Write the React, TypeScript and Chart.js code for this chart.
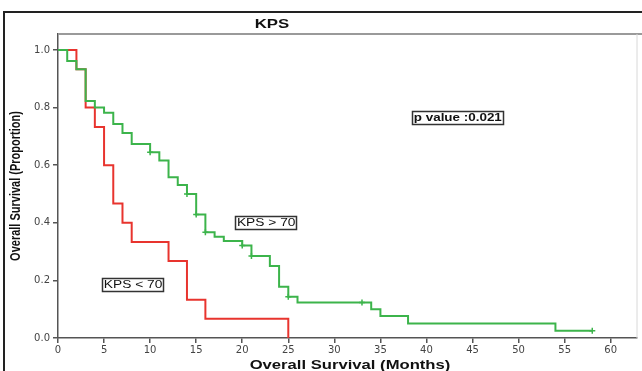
import React, { useEffect, useRef } from "react";
import { Chart, registerables } from "chart.js";

Chart.register(...registerables);

// Kaplan-Meier steps (time in months, survival proportion after event)
const lowTimes = [0, 2, 3, 4, 5, 6, 7, 8, 12, 14, 16, 25];
const lowSurv = [1, 0.933, 0.8, 0.733, 0.6, 0.467, 0.4, 0.333, 0.267, 0.133, 0.067, 0];

const highTimes = [0, 1, 2, 3, 4, 5, 6, 7, 8, 10, 11, 12, 13, 14, 15, 16, 17, 18, 20, 21, 23, 24, 25, 26, 34, 35, 38, 54, 58];
const highSurv = [1, 0.962, 0.933, 0.823, 0.8, 0.782, 0.743, 0.712, 0.674, 0.645, 0.616, 0.558, 0.531, 0.5, 0.429, 0.367, 0.352, 0.337, 0.321, 0.285, 0.25, 0.178, 0.143, 0.123, 0.1, 0.076, 0.05, 0.025, 0.025];

const highCensorTimes = [10, 14, 15, 16, 20, 21, 25, 33, 58];
const highCensorSurv = [0.645, 0.5, 0.429, 0.367, 0.321, 0.285, 0.143, 0.123, 0.025];

const xTickValues = [0, 5, 10, 15, 20, 25, 30, 35, 40, 45, 50, 55, 60];
const yTickValues = [0, 0.2, 0.4, 0.6, 0.8, 1.0];

const chartTitle = "KPS";
const xTitle = "Overall Survival (Months)";
const yTitle = "Overall Survival (Proportion)";
const highLabel = "KPS > 70";
const lowLabel = "KPS < 70";
const pLabel = "p value :0.021";

const RED = "#e8342e";
const GREEN = "#3cb44b";

function stretchedText(ctx: CanvasRenderingContext2D, text: string, cx: number, cy: number, font: string, sx: number) {
  ctx.save();
  ctx.translate(cx, cy);
  ctx.scale(sx, 1);
  ctx.font = font;
  ctx.textAlign = "center";
  ctx.textBaseline = "middle";
  ctx.fillStyle = "#111";
  ctx.fillText(text, 0, 0);
  ctx.restore();
}

function boxedText(ctx: CanvasRenderingContext2D, text: string, cx: number, cy: number, font: string, sx: number, lw: number) {
  ctx.save();
  ctx.font = font;
  const w = ctx.measureText(text).width * sx + 3;
  const h = 13;
  ctx.fillStyle = "#ffffff";
  ctx.fillRect(cx - w / 2, cy - h / 2, w, h);
  ctx.strokeStyle = "#333";
  ctx.lineWidth = lw;
  ctx.strokeRect(Math.round(cx - w / 2) + 0.5, Math.round(cy - h / 2) + 0.5, Math.round(w), h);
  ctx.restore();
  stretchedText(ctx, text, cx, cy + 0.5, font, sx);
}

const decorPlugin = {
  id: "decor",
  afterDraw(chart: any) {
    const ctx: CanvasRenderingContext2D = chart.ctx;
    const { left, right, top, bottom } = chart.chartArea;
    const xs = chart.scales.x;
    const ys = chart.scales.y;
    ctx.save();
    // outer frame
    ctx.strokeStyle = "#222";
    ctx.lineWidth = 2;
    ctx.beginPath();
    ctx.moveTo(4, 371);
    ctx.lineTo(4, 12);
    ctx.lineTo(642, 12);
    ctx.stroke();
    // plot top and right frame
    ctx.strokeStyle = "#9a9a9a";
    ctx.lineWidth = 2;
    ctx.beginPath();
    ctx.moveTo(left, top);
    ctx.lineTo(642, top);
    ctx.stroke();
    ctx.strokeStyle = "#d8d8d8";
    ctx.lineWidth = 1;
    ctx.beginPath();
    ctx.moveTo(right + 0.5, top);
    ctx.lineTo(right + 0.5, bottom);
    ctx.stroke();
    ctx.restore();

    // titles
    stretchedText(ctx, chartTitle, 272, 25, "bold 12px 'Liberation Sans', Arial, sans-serif", 1.4);
    stretchedText(ctx, xTitle, 350, 365, "bold 13px 'Liberation Sans', Arial, sans-serif", 1.28);
    ctx.save();
    ctx.translate(16, (top + bottom) / 2);
    ctx.rotate(-Math.PI / 2);
    ctx.scale(1, 1.25);
    ctx.font = "bold 11px 'Liberation Sans', Arial, sans-serif";
    ctx.textAlign = "center";
    ctx.textBaseline = "middle";
    ctx.fillStyle = "#111";
    ctx.fillText(yTitle, 0, 0);
    ctx.restore();

    // annotations
    boxedText(ctx, highLabel, xs.getPixelForValue(22.6), ys.getPixelForValue(0.401), "11px 'Liberation Sans', Arial, sans-serif", 1.25, 1.5);
    boxedText(ctx, lowLabel, xs.getPixelForValue(8.15), ys.getPixelForValue(0.186), "11px 'Liberation Sans', Arial, sans-serif", 1.25, 1.5);
    boxedText(ctx, pLabel, xs.getPixelForValue(43.4), ys.getPixelForValue(0.766), "bold 11px 'Liberation Sans', Arial, sans-serif", 1.22, 1.5);
  },
};

export default function App() {
  const canvasRef = useRef<HTMLCanvasElement | null>(null);

  useEffect(() => {
    document.body.style.margin = "0";
    const canvas = canvasRef.current;
    if (!canvas) return;
    const chart = new Chart(canvas, {
      type: "line",
      data: {
        datasets: [
          {
            label: highLabel,
            data: highTimes.map((t, i) => ({ x: t, y: highSurv[i] })),
            borderColor: GREEN,
            borderWidth: 2,
            stepped: "before",
            pointRadius: 0,
            fill: false,
          },
          {
            label: lowLabel,
            data: lowTimes.map((t, i) => ({ x: t, y: lowSurv[i] })),
            borderColor: RED,
            borderWidth: 2,
            stepped: "before",
            pointRadius: 0,
            fill: false,
          },
          {
            type: "scatter",
            label: "censored",
            data: highCensorTimes.map((t, i) => ({ x: t, y: highCensorSurv[i] })),
            showLine: false,
            pointStyle: "cross",
            pointRadius: 3,
            borderColor: GREEN,
            backgroundColor: GREEN,
            borderWidth: 1.5,
          } as any,
        ],
      },
      options: {
        animation: false,
        responsive: false,
        layout: { padding: { top: 34, right: 1, left: 0, bottom: 0 } },
        plugins: {
          legend: { display: false },
          tooltip: { enabled: false },
          title: { display: false },
        },
        scales: {
          x: {
            type: "linear",
            min: 0,
            max: 62.8,
            afterFit: (s: any) => {
              s.height = 33;
            },
            afterBuildTicks: (s: any) => {
              s.ticks = xTickValues.map((v) => ({ value: v }));
            },
            ticks: {
              includeBounds: false,
              stepSize: 5,
              padding: 1,
              color: "#444",
              font: { family: "'DejaVu Sans', sans-serif", size: 10 },
              maxRotation: 0,
              callback: (v: any) => String(v),
            },
            grid: { drawOnChartArea: false, drawTicks: true, tickLength: 5, color: "#555", lineWidth: 1.5 },
            border: { display: true, color: "#555", width: 1.5 },
          },
          y: {
            type: "linear",
            min: 0,
            max: 1.0556,
            afterFit: (s: any) => {
              s.width = 58;
            },
            afterBuildTicks: (s: any) => {
              s.ticks = yTickValues.map((v) => ({ value: v }));
            },
            ticks: {
              includeBounds: false,
              stepSize: 0.2,
              padding: 3,
              color: "#444",
              font: { family: "'DejaVu Sans', sans-serif", size: 10 },
              callback: (v: any) => Number(v).toFixed(1),
            },
            grid: { drawOnChartArea: false, drawTicks: true, tickLength: 5, color: "#555", lineWidth: 1.5 },
            border: { display: true, color: "#555", width: 1.5 },
          },
        },
      },
      plugins: [decorPlugin],
    } as any);
    return () => chart.destroy();
  }, []);

  return (
    <div style={{ position: "fixed", left: 0, top: 0, width: 642, height: 371, background: "#fff" }}>
      <canvas ref={canvasRef} width={642} height={371} style={{ display: "block", width: 642, height: 371 }} />
    </div>
  );
}
